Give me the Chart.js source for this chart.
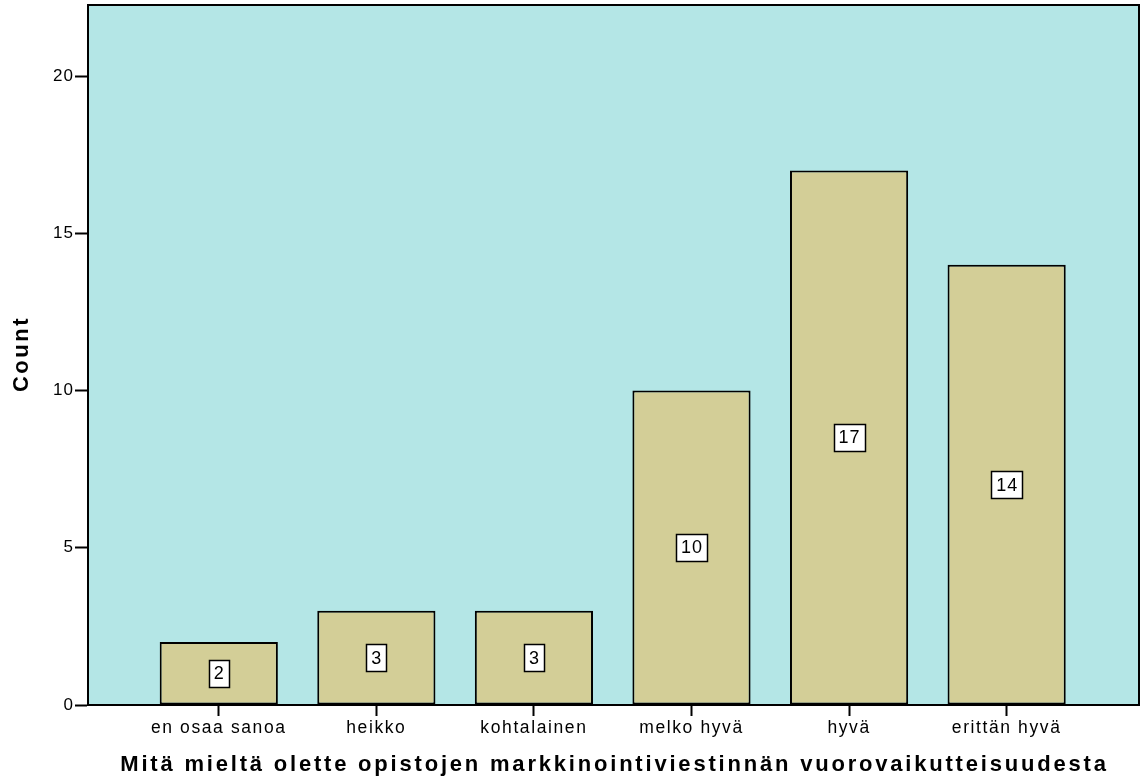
<!DOCTYPE html>
<html>
<head>
<meta charset="utf-8">
<script src="https://cdn.jsdelivr.net/npm/chart.js@4.4.1/dist/chart.umd.min.js"></script>
<style>
  html, body { margin: 0; padding: 0; background: #ffffff; }
  #wrap { width: 1141px; height: 778px; }
</style>
</head>
<body>
<div id="wrap"><canvas id="c" width="1141" height="778"></canvas></div>
<script>
// Answer categories and their counts
const categories = ['en osaa sanoa', 'heikko', 'kohtalainen', 'melko hyvä', 'hyvä', 'erittän hyvä'];
const counts = [2, 3, 3, 10, 17, 14];
const yTicks = [0, 5, 10, 15, 20];
const xTitle = 'Mitä mieltä olette opistojen markkinointiviestinnän vuorovaikutteisuudesta';
const yTitle = 'Count';

const FONT = "'Liberation Sans', Arial, Helvetica, sans-serif";

// Each axis draws its tick labels with its own letter spacing
const labelSpacing = {
  id: 'labelSpacing',
  afterLayout(chart) {
    const spacing = { x: '1.6px', y: '1px' };
    Object.keys(spacing).forEach(id => {
      const scale = chart.scales[id];
      if (!scale || scale._spacingPatched) return;
      const orig = scale.drawLabels.bind(scale);
      scale.drawLabels = function (area) {
        const ctx = this.ctx;
        const prev = ctx.letterSpacing;
        ctx.letterSpacing = spacing[id];
        orig(area);
        ctx.letterSpacing = prev;
      };
      scale._spacingPatched = true;
    });
  }
};

// Plot background, frame and axis titles
const framePlugin = {
  id: 'frame',
  beforeDraw(chart) {
    const { ctx, chartArea: a } = chart;
    ctx.save();
    ctx.fillStyle = '#b4e6e6';
    ctx.fillRect(a.left, a.top, a.right - a.left, a.bottom - a.top);
    ctx.restore();
  },
  afterDraw(chart) {
    const { ctx, chartArea: a } = chart;
    ctx.save();
    ctx.strokeStyle = '#000000';
    ctx.lineWidth = 2;
    ctx.strokeRect(a.left, a.top, a.right - a.left, a.bottom - a.top);

    ctx.fillStyle = '#000000';
    ctx.textAlign = 'center';
    ctx.textBaseline = 'middle';
    ctx.font = 'bold 22px ' + FONT;
    ctx.letterSpacing = '2.8px';
    ctx.fillText(xTitle, (a.left + a.right) / 2 + 1, 765);

    ctx.translate(22, (a.top + a.bottom) / 2);
    ctx.rotate(-Math.PI / 2);
    ctx.font = 'bold 22px ' + FONT;
    ctx.letterSpacing = '2.5px';
    ctx.fillText(yTitle, 1, 0);
    ctx.restore();
  }
};

// Boxed count labels in the middle of each bar
const valueLabels = {
  id: 'valueLabels',
  afterDatasetsDraw(chart) {
    const { ctx } = chart;
    const meta = chart.getDatasetMeta(0);
    ctx.save();
    ctx.font = '18px ' + FONT;
    ctx.letterSpacing = '1px';
    ctx.textAlign = 'center';
    ctx.textBaseline = 'middle';
    meta.data.forEach((bar, i) => {
      const v = chart.data.datasets[0].data[i].y;
      const txt = String(v);
      const cx = bar.x;
      const cy = (bar.y + bar.base) / 2;
      const w = Math.round(ctx.measureText(txt).width + 9);
      const h = 27;
      const x0 = Math.round(cx - w / 2) + 0.5;
      const y0 = Math.round(cy - h / 2) + 0.5;
      ctx.fillStyle = '#ffffff';
      ctx.fillRect(x0, y0, w, h);
      ctx.strokeStyle = '#000000';
      ctx.lineWidth = 1.5;
      ctx.strokeRect(x0, y0, w, h);
      ctx.fillStyle = '#000000';
      ctx.fillText(txt, cx + 0.5, cy + 1);
    });
    ctx.restore();
  }
};

new Chart(document.getElementById('c'), {
  type: 'bar',
  data: {
    datasets: [{
      data: categories.map((c, i) => ({ x: i, y: counts[i] })),
      backgroundColor: '#d3ce97',
      borderColor: '#000000',
      borderWidth: 2,
      borderSkipped: false,
      categoryPercentage: 1.0,
      barPercentage: 0.75
    }]
  },
  options: {
    responsive: false,
    animation: false,
    devicePixelRatio: 1,
    layout: { padding: { top: 5, right: 2, left: 0, bottom: 0 } },
    plugins: {
      legend: { display: false },
      tooltip: { enabled: false }
    },
    scales: {
      x: {
        type: 'linear',
        offset: false,
        min: -0.83,
        max: 5.84,
        afterBuildTicks(scale) {
          scale.ticks = categories.map((_, i) => ({ value: i }));
        },
        afterFit(scale) {
          scale.height = 73;
          scale.paddingLeft = 0;
          scale.paddingRight = 0;
        },
        ticks: {
          autoSkip: false,
          maxRotation: 0,
          padding: 2,
          color: '#000000',
          font: { family: FONT, size: 17.5 },
          callback: (v) => categories[v]
        },
        grid: {
          offset: false,
          drawOnChartArea: false,
          tickLength: 11,
          tickWidth: 2,
          tickColor: '#000000'
        },
        border: { display: true, color: '#000000', width: 2 }
      },
      y: {
        min: 0,
        max: 22.26,
        afterBuildTicks(scale) {
          scale.ticks = yTicks.map(v => ({ value: v }));
        },
        afterFit(scale) {
          scale.width = 88;
          scale.paddingTop = 0;
          scale.paddingBottom = 0;
        },
        ticks: {
          padding: 1,
          color: '#000000',
          font: { family: FONT, size: 17 }
        },
        grid: {
          drawOnChartArea: false,
          tickLength: 13,
          tickWidth: 2,
          tickColor: '#000000'
        },
        border: { display: true, color: '#000000', width: 2 }
      }
    }
  },
  plugins: [labelSpacing, framePlugin, valueLabels]
});
</script>
</body>
</html>
